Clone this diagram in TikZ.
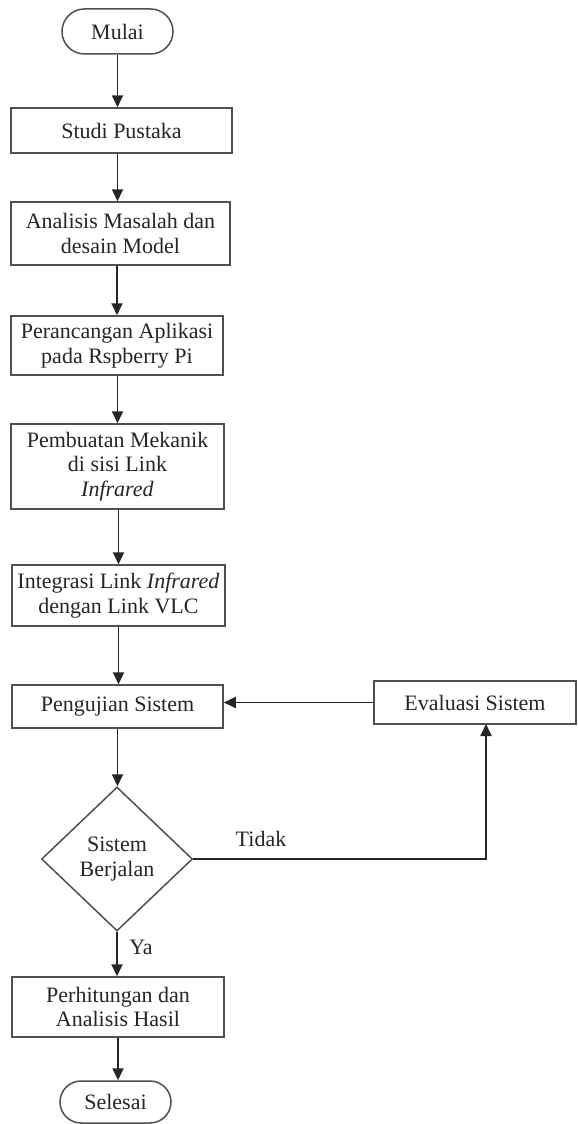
\documentclass[tikz,border=0pt]{standalone}
\usepackage{fontspec}
\setmainfont{Liberation Serif}
\usetikzlibrary{arrows.meta,shapes.geometric,shapes.misc}
\definecolor{edge}{HTML}{505050}
\definecolor{ink}{HTML}{262626}
\begin{document}
\begin{tikzpicture}[x=1pt,y=-1pt,
  every node/.style={font=\fontsize{22}{24.5}\selectfont, text=ink},
  procbox/.style={draw=edge, line width=1.5pt, rectangle, align=center, inner sep=0pt},
  termbox/.style={draw=edge, line width=1.5pt, rounded rectangle, align=center, inner sep=0pt},
  decbox/.style={draw=edge, line width=1.5pt, diamond, align=center, inner sep=0pt},
  flow/.style={draw=ink, line width=1.8pt, -{Triangle[width=11pt,length=12pt]}},
  lbl/.style={font=\fontsize{22}{24}\selectfont}
]
\path[use as bounding box, fill=white] (0,0) rectangle (578,1124);

\node[termbox, minimum width=111pt, minimum height=45pt] (mulai) at (117.5,31.5) {Mulai};
\node[procbox, minimum width=221pt, minimum height=45pt] (studi) at (121.5,130.5) {Studi Pustaka};
\node[procbox, minimum width=219pt, minimum height=63pt] (anal) at (120.5,233.5) {Analisis Masalah dan\\desain Model};
\node[procbox, minimum width=212pt, minimum height=59pt] (peran) at (117,345.5) {Perancangan Aplikasi\\pada Rspberry Pi};
\node[procbox, minimum width=213pt, minimum height=85pt] (pemb) at (117.5,466.5) {Pembuatan Mekanik\\di sisi Link\\\textit{Infrared}};
\node[procbox, minimum width=213pt, minimum height=61pt] (integ) at (118.5,595.5) {Integrasi Link \textit{Infrared}\\dengan Link VLC};
\node[procbox, minimum width=211pt, minimum height=43pt] (uji) at (117.5,706.5) {Pengujian Sistem};
\node[procbox, minimum width=202pt, minimum height=43pt] (eval) at (475,702.5) {Evaluasi Sistem};
\node[decbox, minimum width=151pt, minimum height=144pt] (dec) at (117,859) {Sistem\\Berjalan};
\node[procbox, minimum width=212pt, minimum height=60pt] (hitung) at (118,1007) {Perhitungan dan\\Analisis Hasil};
\node[termbox, minimum width=111pt, minimum height=42pt] (selesai) at (115.5,1102) {Selesai};

\coordinate (evin) at (486,724);

\draw[flow] (mulai.south) -- (mulai.south |- studi.north);
\draw[flow] (mulai.south |- studi.south) -- (mulai.south |- anal.north);
\draw[flow] (peran.north |- anal.south) -- (peran.north);
\draw[flow] (pemb.north |- peran.south) -- (pemb.north |- pemb.north);
\draw[flow] (integ.north |- pemb.south) -- (integ.north);
\draw[flow] (integ.south) -- (integ.south |- uji.north);
\draw[flow] (uji.south) -- (uji.south |- dec.north);
\draw[flow] (dec.south) -- (dec.south |- hitung.north);
\draw[flow] (hitung.south) -- (hitung.south |- selesai.north);
\draw[flow] (eval.west) -- (eval.west -| uji.east);
\draw[flow] (dec.east) -| (evin);

\node[lbl] (tidak) at (261,839) {Tidak};
\node[lbl] (ya) at (141,947) {Ya};
\end{tikzpicture}
\end{document}
